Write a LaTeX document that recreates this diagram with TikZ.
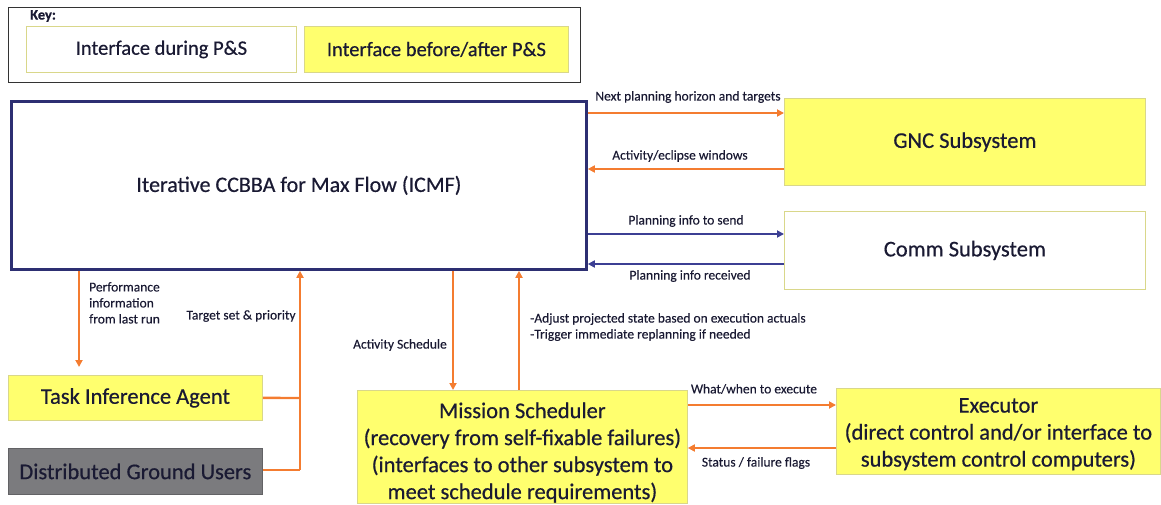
\documentclass[tikz,border=0pt]{standalone}
\usepackage{fontspec}
\setmainfont{Carlito}
\newfontfamily\medfont{Carlito}[FakeBold=0.5]
\newfontfamily\smfont{Carlito}[FakeBold=0.3]
\usetikzlibrary{arrows.meta}
\definecolor{yel}{HTML}{FFFF6E}
\definecolor{yelb}{HTML}{D9D78A}
\definecolor{org}{HTML}{F47C30}
\definecolor{navy}{HTML}{2D2F72}
\definecolor{blu}{HTML}{3C3F94}
\definecolor{gry}{HTML}{7B7B7E}
\definecolor{txt}{HTML}{1A1A33}
\begin{document}
\begin{tikzpicture}[x=1pt,y=-1pt,
  box/.style={draw=yelb,line width=0.8pt,inner sep=0pt,text=txt,font=\medfont\fontsize{22.5}{27}\selectfont,align=center},
  ybox/.style={box,fill=yel},
  wbox/.style={box,fill=white},
  lab/.style={font=\smfont\fontsize{13.5}{16}\selectfont,text=txt,inner sep=1pt},
  oarr/.style={draw=org,line width=2.4pt,-{Triangle[length=7pt,width=7pt]}},
  barr/.style={draw=blu,line width=2.4pt,-{Triangle[length=7pt,width=7pt]}},
  oline/.style={draw=org,line width=2.4pt}]
\useasboundingbox (0,0) rectangle (1161,505);
% key
\node[draw=black!80,line width=0.8pt,minimum width=572pt,minimum height=75pt,anchor=north west,inner sep=0pt] (key) at (8,7) {};
\node[anchor=west,font=\medfont\fontsize{14.5}{16}\bfseries\selectfont,text=txt,inner sep=0pt] (keyl) at (30,16) {Key:};
\node[wbox,minimum width=270pt,minimum height=46pt,anchor=north west,font=\medfont\fontsize{20.5}{24}\selectfont] (kw) at (26,26) {Interface during P\&S};
\node[ybox,minimum width=264pt,minimum height=46pt,anchor=north west,font=\medfont\fontsize{20.5}{24}\selectfont] (ky) at (304,26) {Interface before/after P\&S};
% main boxes
\node[draw=navy,line width=2.8pt,fill=white,minimum width=575pt,minimum height=168pt,anchor=north west,inner sep=0pt,text=txt,font=\medfont\fontsize{22}{26}\selectfont] (icmf) at (10,100) {Iterative CCBBA for Max Flow (ICMF)};
\node[ybox,minimum width=361pt,minimum height=87pt,anchor=north west] (gnc) at (784,98) {GNC Subsystem};
\node[wbox,minimum width=361pt,minimum height=78pt,anchor=north west] (comm) at (784,211) {Comm Subsystem};
\node[ybox,minimum width=254pt,minimum height=45pt,anchor=north west] (tia) at (8,375) {Task Inference Agent};
\node[box,fill=gry,draw=gry!80!black,minimum width=254pt,minimum height=46pt,anchor=north west] (dgu) at (8,448) {Distributed Ground Users};
\node[ybox,minimum width=330pt,minimum height=113pt,anchor=north west] (ms) at (357,390) {\rule{0pt}{27pt}Mission Scheduler\\(recovery from self-fixable failures)\\(interfaces to other subsystem to\\meet schedule requirements)};
\node[ybox,minimum width=324pt,minimum height=86pt,anchor=north west] (ex) at (836,388) {\rule{0pt}{20pt}Executor\\(direct control and/or interface to\\subsystem control computers)};
% right connectors
\draw[oarr] (icmf.east |- 0,113) -- (gnc.west |- 0,113);
\node[lab] (l1) at (688,97) {Next planning horizon and targets};
\draw[oarr] (gnc.west |- 0,169) -- (icmf.east |- 0,169);
\node[lab] (l2) at (680,156) {Activity/eclipse windows};
\draw[barr] (icmf.east |- 0,234) -- (comm.west |- 0,234);
\node[lab] (l3) at (686,221) {Planning info to send};
\draw[barr] (comm.west |- 0,264) -- (icmf.east |- 0,264);
\node[lab] (l4) at (690,276) {Planning info received};
% bottom connectors
\draw[oarr] (icmf.south -| 79,0) -- (79,367) coordinate (tiain);
\node[lab,align=left,anchor=north west,font=\smfont\fontsize{13.5}{16}\selectfont] (l5) at (88,281) {Performance\\information\\from last run};
\coordinate (j1) at (300,398);
\coordinate (j2) at (300,470);
\draw[oline] (tia.east) -- (j1);
\draw[oline] (dgu.east |- j2) -- (j2);
\draw[oarr] (j2) -- (icmf.south -| j2);
\node[lab] (l6) at (241,316) {Target set \& priority};
\draw[oarr] (icmf.south -| 453,0) -- (ms.north -| 453,0);
\node[lab] (l7) at (400,345) {Activity Schedule};
\draw[oarr] (ms.north -| 519,0) -- (icmf.south -| 519,0);
\node[lab,align=left,anchor=north west] (l8) at (529,312) {-Adjust projected state based on execution actuals\\-Trigger immediate replanning if needed};
\draw[oarr] (ms.east |- 0,405) -- (ex.west |- 0,405);
\node[lab] (l9) at (754,389) {What/when to execute};
\draw[oarr] (ex.west |- 0,448) -- (ms.east |- 0,448);
\node[lab] (l10) at (756,463) {Status / failure flags};
\end{tikzpicture}
\end{document}
